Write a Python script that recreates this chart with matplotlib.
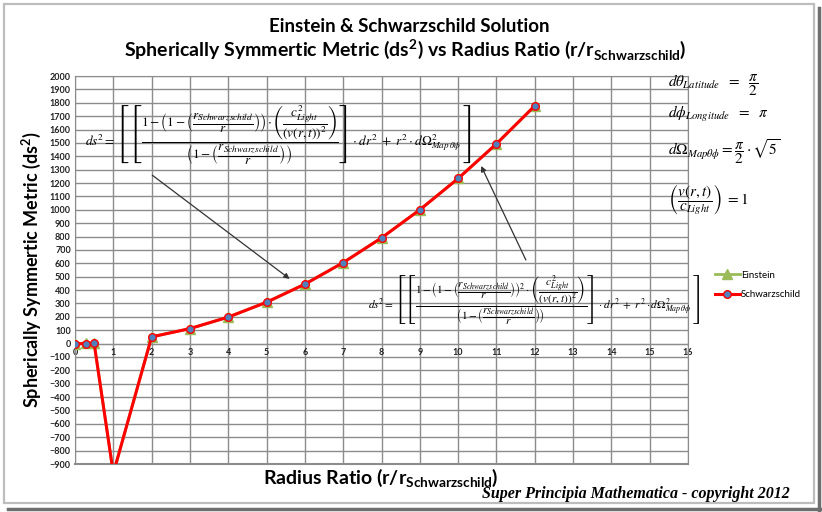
import matplotlib
matplotlib.use("Agg")
import matplotlib.pyplot as plt
from matplotlib.patches import Rectangle
from matplotlib.lines import Line2D

# --- data ---
radius_ratio = [0, 0.3, 0.5, 1, 2, 3, 4, 5, 6, 7, 8, 9, 10, 11, 12]
schwarzschild = [-1, -0.3, 1, -970, 50, 112, 198, 309, 444, 605, 790, 1000, 1234, 1493, 1777]
einstein = [0, 3, 3, -970, 51, 112, 198, 309, 445, 605, 790, 1000, 1234, 1493, 1777]

x_ticks = list(range(0, 17))
y_ticks = list(range(-900, 2001, 100))

TXT = "Lato"
W, H = 822, 512

fig = plt.figure(figsize=(W / 100, H / 100), dpi=100)
ax = fig.add_axes([75 / W, 1 - 464 / H, (688 - 75) / W, (464 - 76) / H])

# frame of the screenshot
fig.patches.append(Rectangle((4 / W, 1 - 503 / H), 810 / W, 499 / H, transform=fig.transFigure,
                             fill=False, edgecolor="#bdbdbd", linewidth=1.6))
fig.add_artist(Line2D([819 / W, 819 / W], [0, 1 - 8 / H], transform=fig.transFigure,
                      color="#6e6e6e", linewidth=2.5))
fig.add_artist(Line2D([8 / W, 1], [1 - 509 / H, 1 - 509 / H], transform=fig.transFigure,
                      color="#6e6e6e", linewidth=2.5))

# series
ax.plot(radius_ratio, einstein, color="#9bbb59", linewidth=2, marker="^", markersize=7,
        markerfacecolor="#9bbb59", markeredgecolor="#9bbb59", label="Einstein", zorder=3)
ax.plot(radius_ratio, schwarzschild, color="#ff0000", linewidth=2.2, marker="o", markersize=5.5,
        markerfacecolor="#4f81bd", markeredgecolor="#ff0000", markeredgewidth=1,
        label="Schwarzschild", zorder=4)

ax.set_xlim(0, 16)
ax.set_ylim(-900, 2000)
ax.set_xticks(x_ticks)
ax.set_yticks(y_ticks)
ax.grid(True, color="#8c8c8c", linewidth=1)
ax.set_axisbelow(True)
for s in ax.spines.values():
    s.set_color("#8c8c8c")
ax.spines["bottom"].set_position(("data", 0))
ax.tick_params(length=0, labelsize=6.5, colors="#222222", pad=3)
for lab in ax.get_xticklabels() + ax.get_yticklabels():
    lab.set_family(TXT)
    lab.set_fontweight("bold")

# bottom line of the box (spine moved to zero)
ax.axhline(-900, color="#8c8c8c", linewidth=1.5, clip_on=False)

# titles
fig.text(409 / W, 1 - 26 / H, "Einstein & Schwarzschild Solution", ha="center", va="center",
         family=TXT, fontweight="bold", fontsize=13.5)
fig.text(405 / W, 1 - 50 / H,
         r"Spherically Symmertic Metric (ds$^{\mathregular{2}}$) vs Radius Ratio (r/r$_{\mathregular{Schwarzschild}}$)",
         ha="center", va="center", family=TXT, fontweight="bold", fontsize=14)
fig.text(381 / W, 1 - 478 / H, r"Radius Ratio (r/r$_{\mathregular{Schwarzschild}}$)",
         ha="center", va="center", family=TXT, fontweight="bold", fontsize=14)
fig.text(31 / W, 1 - 270 / H, r"Spherically Symmertic Metric (ds$^{\mathregular{2}}$)",
         ha="center", va="center", rotation=90, family=TXT, fontweight="bold", fontsize=13)
fig.text(636 / W, 1 - 494 / H, "Super Principia Mathematica - copyright 2012", ha="center",
         va="center", family="Liberation Serif", fontstyle="italic", fontweight="bold", fontsize=11.5)

# legend
fig.legend(loc="upper left", bbox_to_anchor=(706 / W, 1 - 262 / H), frameon=False,
           prop={"family": TXT, "size": 7}, handlelength=2.6, handletextpad=0.1, labelspacing=1.1)

# equations
rs = r"\left(\dfrac{r_{Schwarzschild}}{r}\right)"
cv = r"\left(\dfrac{c^2_{Light}}{\left(v(r,t)\right)^2}\right)"
tail = r"\cdot dr^2 \ +\ r^2\cdot d\Omega^2_{Map\,\theta\phi}\;\right]$"
eq1 = (r"$ds^2 = \left[\left[\dfrac{1-\left(1-" + rs + r"\right)\cdot" + cv + r"}{\left(1-" + rs
       + r"\right)}\right]" + tail)
eq2 = (r"$ds^2 = \left[\left[\dfrac{1-\left(1-" + rs + r"\right)^2\cdot" + cv + r"}{\left(1-" + rs
       + r"\right)}\right]" + tail)
fig.text(85 / W, 1 - 135 / H, eq1, ha="left", va="center", fontsize=9.5, math_fontfamily="stix")
fig.text(368 / W, 1 - 300 / H, eq2, ha="left", va="center", fontsize=8.1, math_fontfamily="stix")

params = [
    (85, r"$d\theta_{Latitude}\ \ =\ \ \dfrac{\pi}{2}$"),
    (114, r"$d\phi_{Longitude}\ \ =\ \ \pi$"),
    (152, r"$d\Omega_{Map\theta\phi} = \dfrac{\pi}{2}\cdot\sqrt{5}$"),
    (200, r"$\left(\dfrac{v(r,t)}{c_{Light}}\right)\ = 1$"),
]
for py, s in params:
    fig.text(668 / W, 1 - py / H, s, ha="left", va="center", fontsize=11, math_fontfamily="stix")

# arrows from equations to the curve
ax.annotate("", xy=(5.66, 471), xytext=(1.96, 1271),
            arrowprops=dict(arrowstyle="-|>", color="#333333", lw=0.9, mutation_scale=8))
ax.annotate("", xy=(10.57, 1346), xytext=(11.8, 606),
            arrowprops=dict(arrowstyle="-|>", color="#333333", lw=0.9, mutation_scale=8))

fig.savefig("out.png", dpi=100)
